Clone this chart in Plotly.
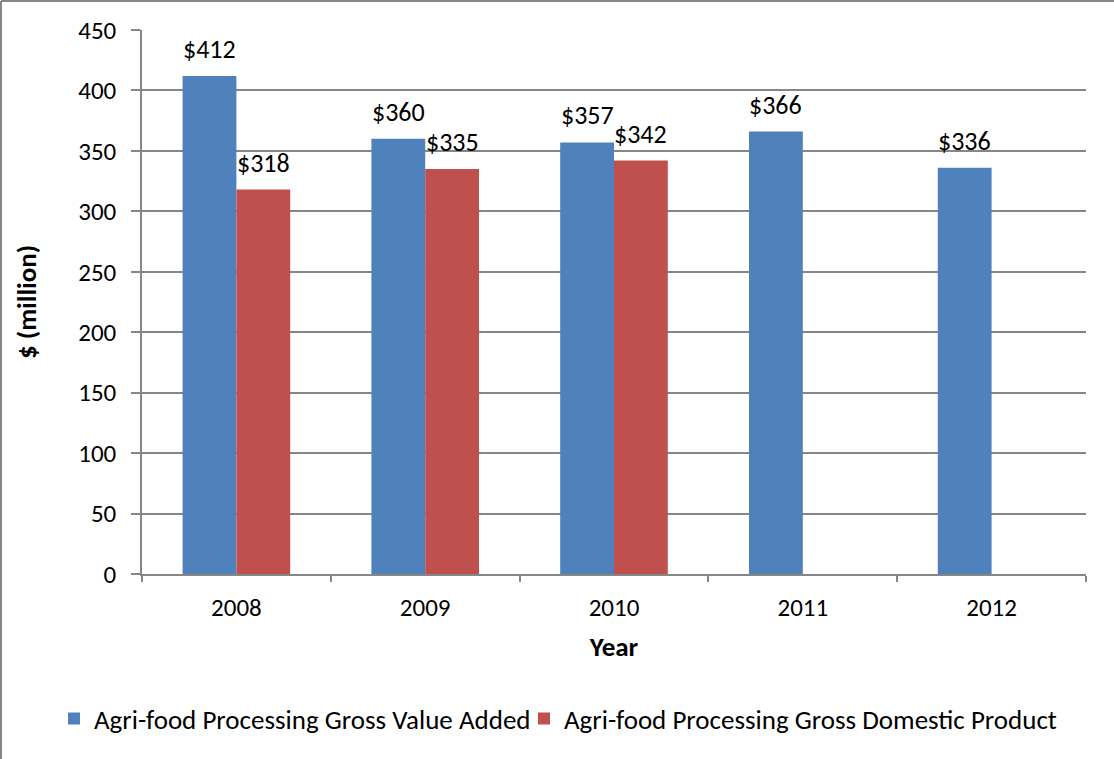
import plotly.graph_objects as go

years = ["2008", "2009", "2010", "2011", "2012"]
gva = [412, 360, 357, 366, 336]
gdp = [318, 335, 342, None, None]
series_names = ["Agri-food Processing Gross Value Added",
                "Agri-food Processing Gross Domestic Product"]
colors = ["#4F81BD", "#C0504D"]

FONT = "Carlito, Calibri, Lato, 'Open Sans', sans-serif"
BARGAP = 0.43

# plot-area pixel geometry (for paper-coordinate placement)
L, R, T, B = 142, 1086, 30, 574
PW, PH = R - L, B - T


def px(xp):
    return (xp - L) / PW


def py(yp):
    return (B - yp) / PH


fig = go.Figure()
legend_ids = ["legend", "legend2"]
for name, vals, col, lg in zip(series_names, [gva, gdp], colors, legend_ids):
    fig.add_trace(go.Bar(x=years, y=vals, name=name, legend=lg,
                         marker=dict(color=col, line=dict(width=0))))

# data labels
half = (1 - BARGAP) / 4
annots = []
for offs, vals in ((-half, gva), (half, gdp)):
    for i, v in enumerate(vals):
        if v is not None:
            annots.append(dict(x=i + offs, y=v, xref="x", yref="y", text=f"${v}", showarrow=False,
                               yanchor="middle", yshift=27,
                               font=dict(size=26, color="black", family=FONT)))

leg_common = dict(orientation="h", yanchor="middle", y=py(719), xanchor="left",
                  font=dict(size=27), bgcolor="rgba(0,0,0,0)", borderwidth=0)

fig.update_layout(
    width=1114, height=759,
    margin=dict(l=L, r=1114 - R, t=T, b=759 - B, autoexpand=False),
    paper_bgcolor="white", plot_bgcolor="white",
    font=dict(family=FONT, size=25, color="black"),
    barmode="group", bargap=BARGAP, bargroupgap=0,
    showlegend=True,
    legend=dict(x=px(54), **leg_common),
    legend2=dict(x=px(524), **leg_common),
    annotations=annots,
    shapes=[
        dict(type="line", xref="paper", yref="paper", x0=px(1), x1=px(1),
             y0=py(759), y1=py(1), line=dict(color="#868686", width=2)),
        dict(type="line", xref="paper", yref="paper", x0=px(1), x1=px(1114),
             y0=py(1), y1=py(1), line=dict(color="#868686", width=2)),
    ],
)
fig.update_xaxes(
    type="category", showline=True, linecolor="#868686", linewidth=1.5,
    ticks="outside", tickson="boundaries", ticklen=6, tickcolor="#868686", tickwidth=1.5,
    ticklabelstandoff=10, automargin=False,
    title=dict(text="<b>Year</b>", font=dict(size=27), standoff=15),
    tickfont=dict(size=25),
)
fig.update_yaxes(
    range=[0, 450], dtick=50, showline=True, linecolor="#868686", linewidth=1.5,
    ticks="outside", ticklen=9, tickcolor="#868686", tickwidth=1.5,
    showgrid=True, gridcolor="#868686", gridwidth=1.5, zeroline=False,
    ticklabelstandoff=10, automargin=False,
    title=dict(text="<b>$ (million)</b>", font=dict(size=27), standoff=34),
    tickfont=dict(size=25),
)

fig.write_html("out.html", config={"displayModeBar": False},
               post_script="document.body.style.margin='0';")
